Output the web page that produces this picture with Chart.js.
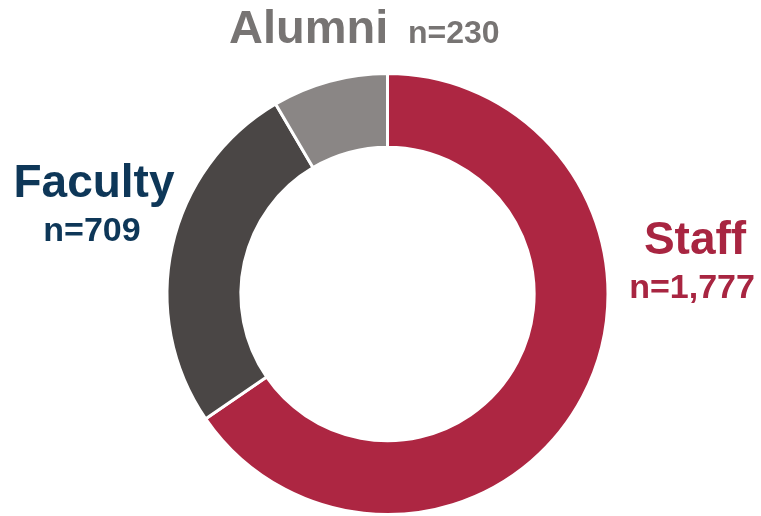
<!DOCTYPE html>
<html>
<head>
<meta charset="utf-8">
<script src="https://cdn.jsdelivr.net/npm/chart.js@4/dist/chart.umd.min.js"></script>
<style>
  html, body { margin: 0; padding: 0; background: #ffffff; }
  #wrap { width: 761px; height: 516px; position: relative; }
</style>
</head>
<body>
<div id="wrap"><canvas id="c" width="761" height="516"></canvas></div>
<script>
// Respondent groups, clockwise from 12 o'clock
const categories = ['Staff', 'Faculty', 'Alumni'];
const counts = [1777, 709, 230];
const countLabels = ['n=1,777', 'n=709', 'n=230'];
const sliceColors = ['#AD2642', '#4A4645', '#8A8685'];
const textColors = ['#A82541', '#0E3758', '#777473'];

// Group names and counts placed around the ring
const groupLabels = {
  id: 'groupLabels',
  afterDraw(chart) {
    const ctx = chart.ctx;
    ctx.save();
    ctx.textBaseline = 'alphabetic';
    const font = (px) => 'bold ' + px + 'px "Liberation Sans", Arial, sans-serif';

    // Alumni: name and count on one line above the ring
    ctx.textAlign = 'left';
    ctx.fillStyle = textColors[2];
    ctx.font = font(47);
    ctx.fillText(categories[2], 229, 43);
    ctx.font = font(32);
    ctx.fillText(countLabels[2], 408, 43);

    // Faculty: stacked at left
    ctx.textAlign = 'center';
    ctx.fillStyle = textColors[1];
    ctx.font = font(46);
    ctx.fillText(categories[1], 94, 197);
    ctx.font = font(34);
    ctx.fillText(countLabels[1], 92, 241);

    // Staff: stacked at right
    ctx.fillStyle = textColors[0];
    ctx.font = font(46);
    ctx.fillText(categories[0], 695, 254);
    ctx.font = font(34);
    ctx.fillText(countLabels[0], 692, 298);
    ctx.restore();
  }
};

new Chart(document.getElementById('c'), {
  type: 'doughnut',
  data: {
    labels: categories,
    datasets: [{
      data: counts,
      backgroundColor: sliceColors,
      borderColor: '#ffffff',
      borderWidth: 3,
      hoverOffset: 0
    }]
  },
  options: {
    responsive: false,
    animation: false,
    cutout: '66.5%',
    layout: { padding: { left: 165, right: 151, top: 72, bottom: 0 } },
    plugins: {
      legend: { display: false },
      tooltip: { enabled: false }
    }
  },
  plugins: [groupLabels]
});
</script>
</body>
</html>
